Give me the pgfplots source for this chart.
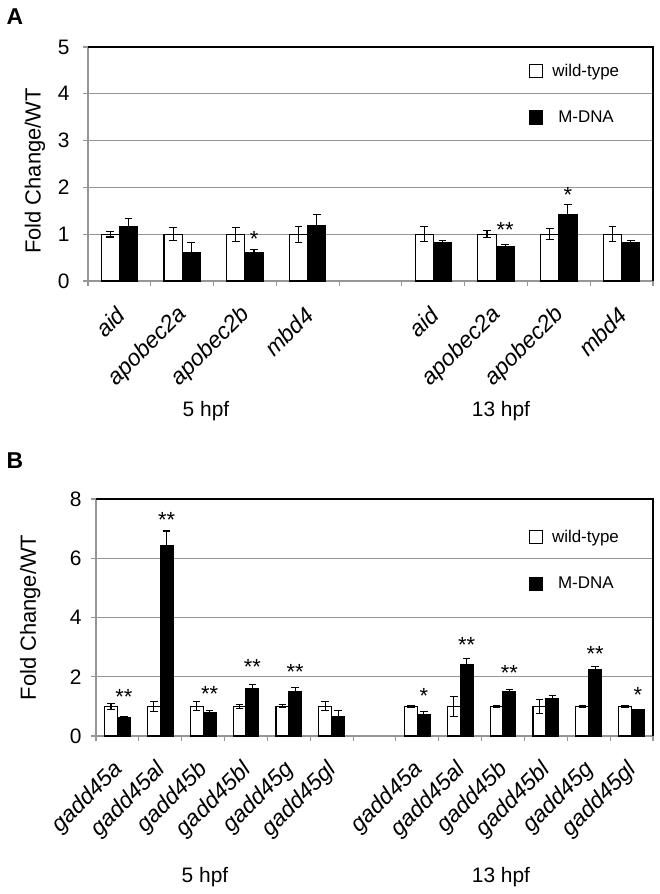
\documentclass[border=0pt]{standalone}
\usepackage{fontspec}
\setmainfont{Liberation Sans}
\usepackage{pgfplots}
\usepackage{pgfplotstable}
\pgfplotsset{compat=1.18}
\definecolor{axgray}{RGB}{150,150,150}

% Panel A: x, wild-type mean, error, M-DNA mean, error
\pgfplotstableread{
x wt wte md mde
0 1.00 0.06 1.16 0.17
1 1.00 0.14 0.60 0.23
2 1.00 0.15 0.60 0.08
3 1.00 0.17 1.18 0.24
5 1.00 0.16 0.82 0.05
6 1.00 0.07 0.73 0.05
7 1.00 0.12 1.41 0.23
8 1.00 0.16 0.82 0.05
}\dataA
\pgfplotstableread{
x y s
2.145 1.00 *
6.145 1.20 **
7.145 1.94 *
}\starsA

% Panel B
\pgfplotstableread{
x wt wte md mde
0 1.00 0.11 0.62 0.02
1 1.00 0.17 6.42 0.50
2 1.00 0.15 0.79 0.06
3 1.00 0.07 1.60 0.14
4 1.00 0.05 1.51 0.13
5 1.00 0.15 0.64 0.21
7 1.00 0.03 0.71 0.11
8 1.00 0.33 2.41 0.20
9 1.00 0.02 1.49 0.09
10 1.00 0.24 1.27 0.10
11 1.00 0.02 2.25 0.09
12 1.00 0.02 0.88 0.02
}\dataB
\pgfplotstableread{
x y s
0.15 1.47 **
1.15 7.46 **
2.15 1.58 **
3.15 2.49 **
4.15 2.32 **
7.15 1.53 *
8.15 3.24 **
9.15 2.29 **
11.15 2.94 **
12.15 1.55 *
}\starsB

\pgfplotsset{
  mybase/.style={
    scale only axis,
    axis x line*=bottom, axis y line*=left,
    axis line style={draw=axgray, line width=1.1bp},
    ymajorgrids, grid style={axgray, line width=1.1bp},
    tick align=outside,
    major tick length=5bp, minor tick length=5bp,
    ytick style={axgray, line width=1.1bp},
    major x tick style={draw=none},
    minor x tick style={axgray, line width=1.1bp},
    /pgf/number format/assume math mode=true,
    yticklabel style={font=\fontsize{21}{23}\selectfont},
    xticklabel style={font=\fontsize{23}{25}\selectfont\itshape, yshift=-23bp, xshift=4bp, rotate=45, anchor=east},
    ylabel style={font=\fontsize{22}{24}\selectfont, anchor=center},
    clip=false,
    legend image code/.code={\draw[#1, line width=1.1bp] (0bp,-6.5bp) rectangle (13bp,6.5bp);},
    legend style={draw=none, fill=none, font=\fontsize{17}{19}\selectfont, anchor=north west, row sep=29bp, inner sep=0pt},
    legend cell align=left,
  },
  errstyle/.style={
    /pgfplots/error bars/y dir=#1,
    /pgfplots/error bars/y explicit,
    /pgfplots/error bars/error bar style={black, line width=1.1bp},
    /pgfplots/error bars/error mark options={rotate=90, mark size=3.8bp, black, line width=1.1bp}},
  wtbar/.style={ybar, bar shift=0, fill=white, draw=black, line width=1.1bp, forget plot, errstyle=both},
  mdbar/.style={ybar, bar shift=0, fill=black, draw=black, line width=1.1bp, forget plot, errstyle=plus},
  starplot/.style={draw=none, mark=none, forget plot, nodes near coords, point meta=explicit symbolic,
    nodes near coords style={anchor=center, yshift=-5bp, font=\fontsize{22}{24}\selectfont, text=black}},
}

\begin{document}
\begin{tikzpicture}
\useasboundingbox (0bp,0bp) rectangle (660bp,-894bp);

\node[font=\fontsize{23}{25}\selectfont\bfseries] at (15bp,-17bp) {A};
\node[font=\fontsize{23}{25}\selectfont\bfseries] at (15bp,-461bp) {B};

\begin{axis}[mybase,
  at={(88bp,-47bp)}, anchor=north west,
  width=565bp, height=234bp,
  xmin=-0.5, xmax=8.5, ymin=0, ymax=5,
  ytick={0,1,2,3,4,5},
  yticklabel style={xshift=-10bp},
  xtick={0,1,2,3,5,6,7,8},
  xticklabels={aid,apobec2a,apobec2b,mbd4,aid,apobec2a,apobec2b,mbd4},
  minor xtick={-0.5,0.5,1.5,2.5,3.5,4.5,5.5,6.5,7.5,8.5},
  ylabel={Fold Change/WT},
  ylabel style={at={(axis description cs:-0.094,0.47)}},
  legend style={at={(rel axis cs:0.7805,0.936)}},
]
\addplot[wtbar, bar width=0.29] table[x expr=\thisrow{x}-0.145, y=wt, y error=wte] {\dataA};
\addplot[mdbar, bar width=0.29] table[x expr=\thisrow{x}+0.145, y=md, y error=mde] {\dataA};
\addplot[starplot] table[x=x, y=y, meta=s] {\starsA};
\addlegendimage{fill=white, draw=black}
\addlegendentry{\hspace{7bp}wild-type}
\addlegendimage{fill=black, draw=black}
\addlegendentry{\hspace{13bp}M-DNA}
\draw[black, line width=1.3bp] (rel axis cs:0,1) -- (rel axis cs:1,1) -- (rel axis cs:1,0);
\end{axis}

\node[font=\fontsize{21}{23}\selectfont] at (206bp,-411bp) {5 hpf};
\node[font=\fontsize{21}{23}\selectfont] at (501bp,-411bp) {13 hpf};

\begin{axis}[mybase,
  at={(96bp,-499bp)}, anchor=north west,
  width=557bp, height=237bp,
  xmin=-0.5, xmax=12.5, ymin=0, ymax=8,
  ytick={0,2,4,6,8},
  yticklabel style={xshift=-6bp},
  xtick={0,1,2,3,4,5,7,8,9,10,11,12},
  xticklabels={gadd45a,gadd45al,gadd45b,gadd45bl,gadd45g,gadd45gl,gadd45a,gadd45al,gadd45b,gadd45bl,gadd45g,gadd45gl},
  minor xtick={-0.5,0.5,1.5,2.5,3.5,4.5,5.5,6.5,7.5,8.5,9.5,10.5,11.5,12.5},
  ylabel={Fold Change/WT},
  ylabel style={at={(axis description cs:-0.118,0.5)}},
  legend style={at={(rel axis cs:0.777,0.877)}},
]
\addplot[wtbar, bar width=0.30] table[x expr=\thisrow{x}-0.15, y=wt, y error=wte] {\dataB};
\addplot[mdbar, bar width=0.30] table[x expr=\thisrow{x}+0.15, y=md, y error=mde] {\dataB};
\addplot[starplot] table[x=x, y=y, meta=s] {\starsB};
\addlegendimage{fill=white, draw=black}
\addlegendentry{\hspace{7bp}wild-type}
\addlegendimage{fill=black, draw=black}
\addlegendentry{\hspace{13bp}M-DNA}
\draw[black, line width=1.3bp] (rel axis cs:0,1) -- (rel axis cs:1,1) -- (rel axis cs:1,0);
\end{axis}

\node[font=\fontsize{21}{23}\selectfont] at (205bp,-877bp) {5 hpf};
\node[font=\fontsize{21}{23}\selectfont] at (501bp,-877bp) {13 hpf};
\end{tikzpicture}
\end{document}
